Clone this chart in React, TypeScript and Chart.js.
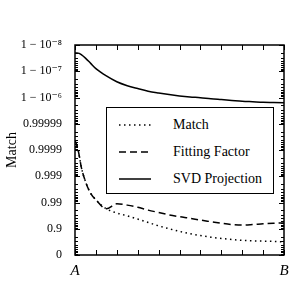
import React, { useEffect, useRef } from "react";
import { Chart, registerables } from "chart.js";
Chart.register(...registerables);

// transformed y = -log10(1 - match)
const xValues = [0, 0.01, 0.02, 0.03, 0.05, 0.075, 0.1, 0.15, 0.2, 0.25, 0.3, 0.35, 0.4, 0.45, 0.5, 0.55, 0.6, 0.65, 0.7, 0.75, 0.8, 0.85, 0.9, 0.95, 1];
const matchValues = [4.35, 4.15, 3.8, 3.35, 2.8, 2.35, 2.1, 1.76, 1.6, 1.49, 1.37, 1.24, 1.11, 1.0, 0.9, 0.81, 0.74, 0.68, 0.63, 0.59, 0.56, 0.54, 0.53, 0.52, 0.5];
const fittingValues = [4.35, 4.15, 3.8, 3.35, 2.8, 2.35, 2.1, 1.76, 1.95, 1.9, 1.82, 1.71, 1.62, 1.53, 1.46, 1.4, 1.33, 1.27, 1.21, 1.16, 1.14, 1.16, 1.19, 1.21, 1.22];
const svdValues = [7.7, 7.7, 7.68, 7.63, 7.5, 7.3, 7.1, 6.82, 6.6, 6.45, 6.34, 6.24, 6.17, 6.11, 6.06, 6.02, 5.99, 5.95, 5.92, 5.89, 5.86, 5.84, 5.82, 5.81, 5.8];

const seriesNames = ["Match", "Fitting Factor", "SVD Projection"];
const yTickValues = [0, 1, 2, 3, 4, 5, 6, 7, 8];
const yTickLabels = ["0", "0.9", "0.99", "0.999", "0.9999", "0.99999", "1 − 10⁻⁶", "1 − 10⁻⁷", "1 − 10⁻⁸"];
const xTickValues = [0, 1];
const xTickLabels = ["A", "B"];
const xMajorTicks = [0, 0.1, 0.2, 0.3, 0.4, 0.5, 0.6, 0.7, 0.8, 0.9, 1];

const SERIF = "'Liberation Serif', 'DejaVu Serif', serif";

const frameTicks = {
  id: "frameTicks",
  afterDraw(chart: any) {
    const { ctx, chartArea: a, scales } = chart;
    ctx.save();
    ctx.fillStyle = "#000000";
    const L = Math.round(a.left), R = Math.round(a.right), T = Math.round(a.top), B = Math.round(a.bottom);
    for (let i = 0; i < xMajorTicks.length; i++) {
      const p = Math.round(scales.x.getPixelForValue(xMajorTicks[i]));
      ctx.fillRect(p, B - 5, 1, 5);
      ctx.fillRect(p, T, 1, 5);
    }
    for (let i = 0; i < yTickValues.length; i++) {
      const p = Math.round(scales.y.getPixelForValue(yTickValues[i]));
      ctx.fillRect(L, p, 5, 1);
      ctx.fillRect(R - 5, p, 5, 1);
    }
    for (let k = 0; k < 8; k++) {
      for (let j = 2; j <= 9; j++) {
        const p = Math.round(scales.y.getPixelForValue(k + 1 - Math.log10(j)));
        ctx.fillRect(L, p, 3, 1);
        ctx.fillRect(R - 3, p, 3, 1);
      }
    }
    ctx.strokeStyle = "#000";
    ctx.lineWidth = 1.5;
    ctx.strokeRect(a.left, a.top, a.width, a.height);
    ctx.restore();
  },
};

export default function App() {
  const ref = useRef<HTMLCanvasElement>(null);
  useEffect(() => {
    if (!ref.current) return;
    const mk = (vals: number[]) => vals.map((y, i) => ({ x: xValues[i], y }));
    const chart = new Chart(ref.current, {
      type: "line",
      data: {
        datasets: [
          { label: seriesNames[0], data: mk(matchValues), borderColor: "#000", borderWidth: 1.5, borderDash: [1.5, 3.5], pointRadius: 0, cubicInterpolationMode: "monotone", fill: false },
          { label: seriesNames[1], data: mk(fittingValues), borderColor: "#000", borderWidth: 1.5, borderDash: [7, 4], pointRadius: 0, cubicInterpolationMode: "monotone", fill: false },
          { label: seriesNames[2], data: mk(svdValues), borderColor: "#000", borderWidth: 1.5, pointRadius: 0, cubicInterpolationMode: "monotone", fill: false },
        ],
      },
      options: {
        animation: false,
        responsive: true,
        maintainAspectRatio: false,
        layout: { padding: { top: 45, right: 16, left: 0, bottom: 0 } },
        plugins: { legend: { display: false }, tooltip: { enabled: false } },
        scales: {
          x: {
            type: "linear",
            min: 0,
            max: 1,
            grid: { display: false },
            border: { display: false },
            afterBuildTicks: (s: any) => { s.ticks = xTickValues.map((v) => ({ value: v })); },
            afterFit: (s: any) => { s.height = 45; },
            ticks: {
              autoSkip: false,
              maxRotation: 0,
              padding: -1,
              color: "#000",
              font: { family: SERIF, size: 15, style: "italic" },
              callback: (_v: any, i: number) => xTickLabels[i],
            },
          },
          y: {
            type: "linear",
            min: 0,
            max: 8,
            grid: { display: false },
            border: { display: false },
            afterBuildTicks: (s: any) => { s.ticks = yTickValues.map((v) => ({ value: v })); },
            afterFit: (s: any) => { s.width = 75; },
            title: { display: true, text: "Match", color: "#000", font: { family: SERIF, size: 14 }, padding: { top: 4, bottom: 0 } },
            ticks: {
              autoSkip: false,
              padding: 5,
              color: "#000",
              font: { family: SERIF, size: 12 },
              callback: (_v: any, i: number) => yTickLabels[i],
            },
          },
        },
      },
      plugins: [frameTicks],
    } as any);
    return () => chart.destroy();
  }, []);

  const row = (top: number, dash: string | null, label: string) => (
    <div style={{ position: "absolute", left: 0, top: top - 9, height: 18, width: "100%" }}>
      <svg width={40} height={18} style={{ position: "absolute", left: 11, top: 0 }}>
        <line x1={1} y1={9} x2={33} y2={9} stroke="#000" strokeWidth={1.5} strokeDasharray={dash || undefined} />
      </svg>
      <span style={{ position: "absolute", left: 66, top: 0, lineHeight: "18px", fontFamily: SERIF, fontSize: 14, color: "#000", whiteSpace: "nowrap" }}>{label}</span>
    </div>
  );

  return (
    <div style={{ position: "fixed", left: 0, top: 0, width: 300, height: 300, background: "#fff" }}>
      <canvas ref={ref} />
      <div style={{ position: "absolute", left: 106, top: 107, width: 166, height: 85, border: "1.5px solid #000", background: "#fff" }}>
        {row(17, "1.5 3.5", seriesNames[0])}
        {row(44, "7 4", seriesNames[1])}
        {row(71, null, seriesNames[2])}
      </div>
    </div>
  );
}
